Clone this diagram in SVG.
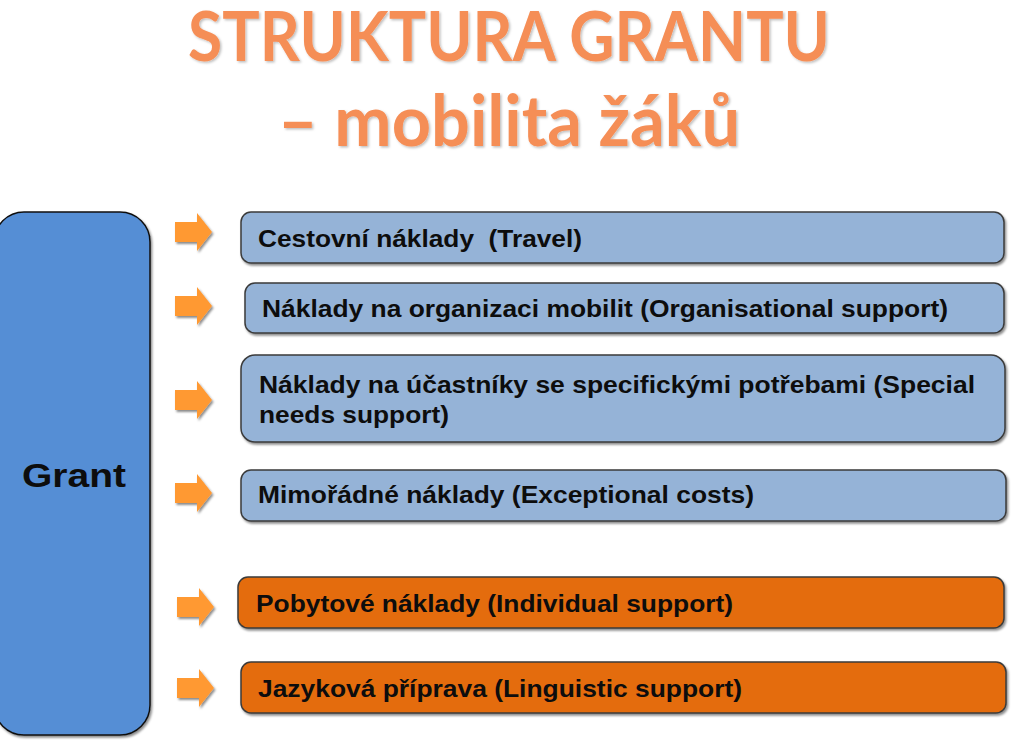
<svg xmlns="http://www.w3.org/2000/svg" width="1023" height="752" viewBox="0 0 1023 752">
<defs>
<filter id="sh" x="-10%" y="-10%" width="125%" height="130%">
<feDropShadow dx="1.5" dy="2" stdDeviation="1.2" flood-color="#000" flood-opacity="0.45"/>
</filter>
<filter id="tsh" x="-5%" y="-5%" width="110%" height="120%">
<feDropShadow dx="1.5" dy="1.5" stdDeviation="1" flood-color="#000" flood-opacity="0.25"/>
</filter>
<path id="arr" d="M0,-10 H22 V-19 L37,0 L22,19 V10 H0 Z"/>
</defs>
<style>
.title{font-family:Lato,"Open Sans","Liberation Sans",sans-serif;font-weight:bold;fill:#F58E57;text-anchor:middle}
.blue{fill:#95B3D7;stroke:#3B3B3B;stroke-width:1.5}
.orange{fill:#E46C0A;stroke:#3B3B3B;stroke-width:1.5}
.lbl{font-family:"Liberation Sans",Arial,sans-serif;font-weight:bold;font-size:24px;fill:#0D0D0D}
.arrow{fill:#FF9933}
</style>
<rect width="1023" height="752" fill="#FFFFFF"/>
<g id="title" filter="url(#tsh)">
<text class="title" x="509" y="61" font-size="68" textLength="642" lengthAdjust="spacingAndGlyphs">STRUKTURA GRANTU</text>
<text class="title" x="509" y="146" font-size="70" textLength="462" lengthAdjust="spacingAndGlyphs">– mobilita žáků</text>
</g>
<g id="grant">
<rect x="-6" y="212" width="156" height="523" rx="30" fill="#558ED5" stroke="#111" stroke-width="1.5" filter="url(#sh)"/>
<text x="22" y="487" font-family="'Liberation Sans',Arial,sans-serif" font-weight="bold" font-size="34" fill="#0D0D0D" textLength="104" lengthAdjust="spacingAndGlyphs">Grant</text>
</g>
<g id="connectors" class="arrow" filter="url(#sh)">
<use href="#arr" x="175" y="232"/>
<use href="#arr" x="175" y="306"/>
<use href="#arr" x="175" y="400"/>
<use href="#arr" x="175" y="493"/>
<use href="#arr" x="177" y="607"/>
<use href="#arr" x="177" y="688"/>
</g>
<g id="n1">
<rect class="blue" x="241" y="212" width="763" height="51" rx="10" filter="url(#sh)"/>
<text class="lbl" x="258" y="247" xml:space="preserve" textLength="324" lengthAdjust="spacingAndGlyphs">Cestovní náklady  (Travel)</text>
</g>
<g id="n2">
<rect class="blue" x="245" y="283" width="759" height="50" rx="10" filter="url(#sh)"/>
<text class="lbl" x="262" y="317" textLength="686" lengthAdjust="spacingAndGlyphs">Náklady na organizaci mobilit (Organisational support)</text>
</g>
<g id="n3">
<rect class="blue" x="241" y="355" width="764" height="87" rx="14" filter="url(#sh)"/>
<text class="lbl" x="259" y="393" textLength="716" lengthAdjust="spacingAndGlyphs">Náklady na účastníky se specifickými potřebami (Special</text>
<text class="lbl" x="259" y="423" textLength="190" lengthAdjust="spacingAndGlyphs">needs support)</text>
</g>
<g id="n4">
<rect class="blue" x="241" y="470" width="765" height="51" rx="10" filter="url(#sh)"/>
<text class="lbl" x="258" y="503" textLength="496" lengthAdjust="spacingAndGlyphs">Mimořádné náklady (Exceptional costs)</text>
</g>
<g id="n5">
<rect class="orange" x="238" y="577" width="766" height="51" rx="10" filter="url(#sh)"/>
<text class="lbl" x="256" y="612" textLength="477" lengthAdjust="spacingAndGlyphs">Pobytové náklady (Individual support)</text>
</g>
<g id="n6">
<rect class="orange" x="241" y="662" width="765" height="51" rx="10" filter="url(#sh)"/>
<text class="lbl" x="258" y="697" textLength="484" lengthAdjust="spacingAndGlyphs">Jazyková příprava (Linguistic support)</text>
</g>
</svg>
